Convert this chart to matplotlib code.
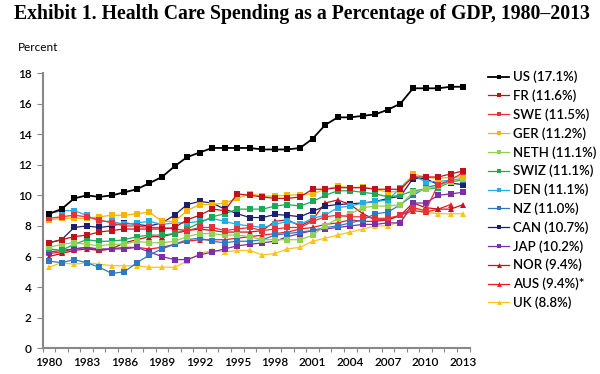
import matplotlib
matplotlib.use("Agg")
import matplotlib.pyplot as plt
import numpy as np
from matplotlib.ticker import FixedLocator, MultipleLocator

years = list(range(1980, 2014))

# % of GDP (1980..2013)
us = [8.8, 9.1, 9.8, 10.0, 9.9, 10.0, 10.2, 10.4, 10.8, 11.2, 11.9, 12.5, 12.8, 13.1, 13.1,
      13.1, 13.1, 13.0, 13.0, 13.0, 13.1, 13.7, 14.6, 15.1, 15.1, 15.2, 15.3, 15.6, 16.0,
      17.0, 17.0, 17.0, 17.1, 17.1]
fr = [6.9, 7.1, 7.3, 7.4, 7.6, 7.7, 7.8, 7.8, 7.8, 7.8, 7.9, 8.4, 8.7, 9.1, 9.0,
      10.1, 10.0, 9.9, 9.8, 9.8, 9.9, 10.4, 10.4, 10.5, 10.5, 10.5, 10.4, 10.4, 10.4,
      11.2, 11.2, 11.2, 11.4, 11.6]
swe = [8.5, 8.6, 8.7, 8.6, 8.4, 8.2, 8.0, 8.0, 7.9, 7.9, 7.8, 7.7, 7.9, 7.9, 7.7,
       7.8, 7.9, 7.7, 7.8, 7.9, 7.9, 8.3, 8.6, 8.7, 8.6, 8.6, 8.5, 8.5, 8.7,
       9.2, 9.0, 10.7, 11.0, 11.5]
ger = [8.4, 8.5, 8.5, 8.5, 8.6, 8.7, 8.7, 8.8, 8.9, 8.3, 8.3, 9.0, 9.4, 9.4, 9.5,
       9.8, 10.1, 9.95, 9.95, 10.0, 10.05, 10.1, 10.4, 10.6, 10.5, 10.55, 10.4, 10.2, 10.3,
       11.4, 11.2, 11.1, 11.2, 11.2]
neth = [6.6, 6.8, 6.9, 6.8, 6.7, 6.8, 6.8, 7.0, 6.9, 6.9, 7.0, 7.3, 7.5, 7.5, 7.4,
        7.4, 7.3, 7.1, 7.1, 7.1, 7.1, 7.4, 8.0, 8.5, 8.8, 9.2, 9.3, 9.3, 9.4,
        10.2, 10.4, 10.6, 10.9, 11.1]
swiz = [6.5, 6.4, 6.8, 7.1, 7.0, 7.0, 7.1, 7.3, 7.4, 7.4, 7.5, 7.8, 8.2, 8.6, 8.8,
        9.1, 9.1, 9.1, 9.3, 9.4, 9.3, 9.6, 10.0, 10.3, 10.3, 10.2, 10.1, 9.9, 10.0,
        10.3, 10.4, 10.5, 10.9, 11.1]
den = [8.8, 9.0, 9.0, 8.7, 8.3, 8.3, 8.1, 8.2, 8.3, 8.1, 8.2, 8.2, 8.3, 8.5, 8.3,
       8.1, 8.0, 7.9, 8.1, 8.3, 8.1, 8.5, 8.7, 9.2, 9.3, 9.5, 9.6, 9.7, 10.5,
       11.3, 10.9, 10.9, 11.0, 11.1]
nz = [5.7, 5.6, 5.8, 5.6, 5.3, 4.9, 5.0, 5.6, 6.1, 6.5, 6.8, 7.1, 7.2, 7.0, 6.9,
      7.0, 7.0, 7.1, 7.4, 7.5, 7.6, 7.7, 7.9, 8.0, 8.2, 8.4, 8.8, 8.9, 9.4,
      10.0, 10.5, 10.7, 10.9, 11.0]
can = [6.9, 7.1, 7.9, 8.0, 7.9, 8.0, 8.2, 8.1, 8.0, 8.2, 8.7, 9.4, 9.6, 9.5, 9.1,
       8.8, 8.55, 8.55, 8.75, 8.7, 8.6, 8.95, 9.3, 9.4, 9.45, 9.5, 9.6, 9.8, 9.95,
       11.1, 11.1, 10.7, 10.8, 10.7]
jap = [6.3, 6.4, 6.5, 6.6, 6.5, 6.5, 6.5, 6.6, 6.3, 6.0, 5.8, 5.8, 6.1, 6.3, 6.5,
       6.7, 6.8, 6.9, 7.0, 7.3, 7.5, 7.7, 7.8, 7.9, 8.0, 8.1, 8.1, 8.2, 8.2,
       9.5, 9.5, 10.0, 10.1, 10.2]
nor = [6.0, 6.2, 6.4, 6.5, 6.4, 6.5, 6.9, 7.1, 7.3, 7.3, 7.5, 7.7, 7.8, 7.7, 7.6,
       7.6, 7.6, 7.7, 8.3, 8.4, 8.0, 8.4, 9.5, 9.7, 9.4, 8.8, 8.4, 8.4, 8.7,
       9.5, 9.2, 9.1, 9.1, 9.4]
aus = [6.2, 6.3, 6.5, 6.6, 6.4, 6.5, 6.6, 6.6, 6.5, 6.6, 6.8, 7.0, 7.1, 7.1, 7.1,
       7.2, 7.3, 7.4, 7.5, 7.6, 7.8, 7.9, 8.1, 8.2, 8.4, 8.3, 8.3, 8.4, 8.7,
       9.0, 8.9, 9.1, 9.4, np.nan]
uk = [5.3, 5.6, 5.5, 5.6, 5.5, 5.4, 5.4, 5.4, 5.3, 5.3, 5.3, 5.7, 6.2, 6.4, 6.3,
      6.4, 6.4, 6.1, 6.2, 6.5, 6.6, 7.0, 7.2, 7.4, 7.6, 7.8, 8.0, 8.0, 8.3,
      9.2, 8.9, 8.8, 8.8, 8.8]

labels = ["US (17.1%)", "FR (11.6%)", "SWE (11.5%)", "GER (11.2%)", "NETH (11.1%)",
          "SWIZ (11.1%)", "DEN (11.1%)", "NZ (11.0%)", "CAN (10.7%)", "JAP (10.2%)",
          "NOR (9.4%)", "AUS (9.4%)*", "UK (8.8%)"]
series = [us, fr, swe, ger, neth, swiz, den, nz, can, jap, nor, aus, uk]
colors = ["#000000", "#c0121a", "#e8313a", "#f7b500", "#92d050", "#1aaa55",
          "#1eaee8", "#2f78c4", "#1c1f6b", "#7b2fa8", "#c8101e", "#ee1c25", "#fcc419"]
markers = ["s", "s", "s", "s", "s", "s", "s", "s", "s", "s", "^", "^", "^"]

plt.rcParams["font.family"] = ["Lato", "DejaVu Sans"]

fig = plt.figure(figsize=(6, 3.74), dpi=100)
ax = fig.add_axes([0.0712, 0.0687, 0.7113, 0.7361])

handles = []
for i in range(len(series) - 1, -1, -1):
    is_us = i == 0
    (h,) = ax.plot(years, series[i], color=colors[i], marker=markers[i],
                   markersize=5 if is_us else 4.2, linewidth=1.3 if is_us else 0.9,
                   markeredgewidth=0, label=labels[i], zorder=3 + (len(series) - i))
    handles.append(h)
handles = handles[::-1]

ax.set_xlim(1979.5, 2013.5)
ax.set_ylim(0, 18)
ax.set_yticks(range(0, 19, 2))
ax.xaxis.set_major_locator(FixedLocator(range(1980, 2014, 3)))
ax.xaxis.set_minor_locator(MultipleLocator(1, offset=0.5))
ax.tick_params(axis="x", which="major", length=0, pad=6, labelsize=8.5)
ax.tick_params(axis="x", which="minor", length=3, width=0.8, color="#888888", direction="out")
ax.tick_params(axis="y", length=4, width=0.8, color="#888888", labelsize=8.5, pad=4)
for lab in ax.get_xticklabels() + ax.get_yticklabels():
    lab.set_fontweight("semibold")

for s in ["top", "right"]:
    ax.spines[s].set_visible(False)
for s in ["left", "bottom"]:
    ax.spines[s].set_color("#888888")
    ax.spines[s].set_linewidth(1.5)

fig.text(0.023, 0.963, "Exhibit 1. Health Care Spending as a Percentage of GDP, 1980\u20132013",
         family="Liberation Serif", fontweight="bold", fontsize=14.2, va="center", ha="left")
fig.text(0.03, 0.874, "Percent", fontsize=8.5, va="center", ha="left")

leg = fig.legend(handles=handles, labels=labels, loc="upper left", bbox_to_anchor=(0.805, 0.825),
                 frameon=False, handlelength=1.6, handletextpad=0.3,
                 labelspacing=0.47, borderaxespad=0, prop={"weight": "semibold", "size": 9.5})
for h in leg.legend_handles:
    h.set_markersize(3.5)

fig.savefig("out.png", dpi=100)
